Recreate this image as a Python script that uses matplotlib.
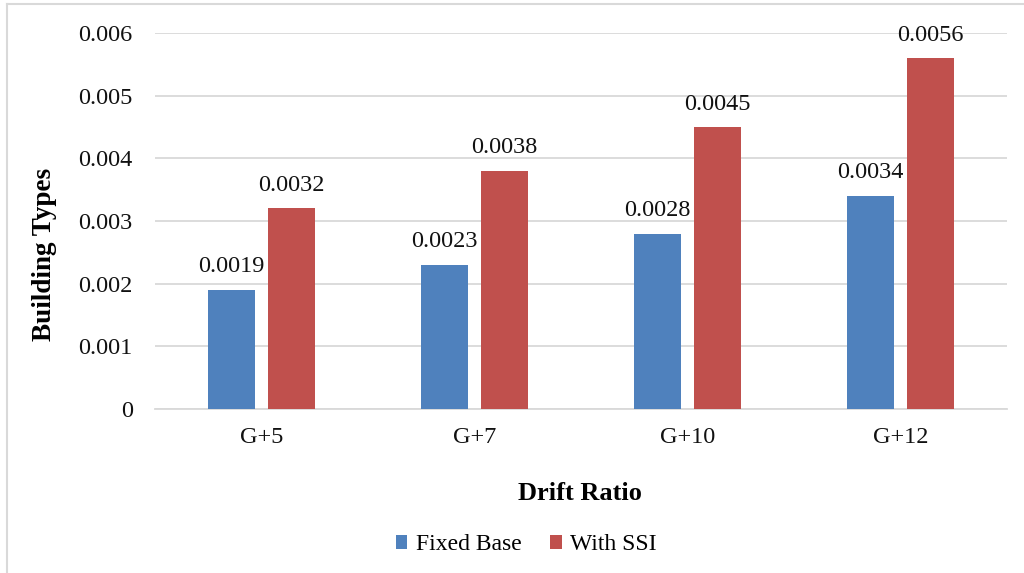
import matplotlib
matplotlib.use("Agg")
import matplotlib.pyplot as plt
import numpy as np
from matplotlib.lines import Line2D

categories = ["G+5", "G+7", "G+10", "G+12"]
fixed_base = [0.0019, 0.0023, 0.0028, 0.0034]
with_ssi = [0.0032, 0.0038, 0.0045, 0.0056]
yticks = [0, 0.001, 0.002, 0.003, 0.004, 0.005, 0.006]
ytick_labels = ["0", "0.001", "0.002", "0.003", "0.004", "0.005", "0.006"]

plt.rcParams['font.family'] = ['Liberation Serif', 'DejaVu Serif']

fig = plt.figure(figsize=(10.24, 5.73), dpi=100)
ax = fig.add_axes([155/1024, 1-409/573, (1007-155)/1024, (409-33)/573])

x = np.arange(len(categories))
w = 0.225
off = 0.141
blue = "#4F81BD"
red = "#C0504D"
b1 = ax.bar(x - off, fixed_base, w, color=blue, label="Fixed Base", zorder=3)
b2 = ax.bar(x + off, with_ssi, w, color=red, label="With SSI", zorder=3)

for bars, vals in ((b1, fixed_base), (b2, with_ssi)):
    for r, v in zip(bars, vals):
        ax.annotate(f"{v:.4f}", (r.get_x() + r.get_width()/2, v),
                    xytext=(0, 9), textcoords="offset points",
                    ha="center", va="bottom", fontsize=17.5, color="#111111")

ax.set_xlim(-0.5, len(categories) - 0.5)
ax.set_ylim(0, 0.006)
ax.set_yticks(yticks)
ax.set_yticklabels(ytick_labels)
ax.set_xticks(x)
ax.set_xticklabels(categories)
ax.tick_params(axis='both', length=0, labelsize=17.5, colors="#111111")
ax.tick_params(axis='y', pad=16)
ax.tick_params(axis='x', pad=13)
ax.grid(axis='y', color="#D9D9D9", linewidth=1.3, zorder=0)
for s in ["top", "right", "left"]:
    ax.spines[s].set_visible(False)
ax.spines["bottom"].set_color("#D9D9D9")
ax.spines["bottom"].set_linewidth(1.3)

fig.text(580/1024, 1-493/573, "Drift Ratio", ha="center", va="center",
         fontsize=19, fontweight="bold")
fig.text(45/1024, 1-254/573, "Building Types", ha="center", va="center",
         rotation=90, fontsize=19.5, fontweight="bold")

fig.legend(handles=[b1, b2], loc="center", bbox_to_anchor=(526/1024, 1-545/573),
           ncol=2, frameon=False, fontsize=17, handlelength=0.5, handleheight=0.5,
           handletextpad=0.35, columnspacing=1.2)

# chart border (left and top)
fig.add_artist(Line2D([7/1024, 7/1024], [0, 1-4/573], transform=fig.transFigure,
                      color="#D9D9D9", linewidth=1.5))
fig.add_artist(Line2D([7/1024, 1], [1-4/573, 1-4/573], transform=fig.transFigure,
                      color="#D9D9D9", linewidth=1.5))

fig.savefig("out.png", dpi=100, facecolor="white")
